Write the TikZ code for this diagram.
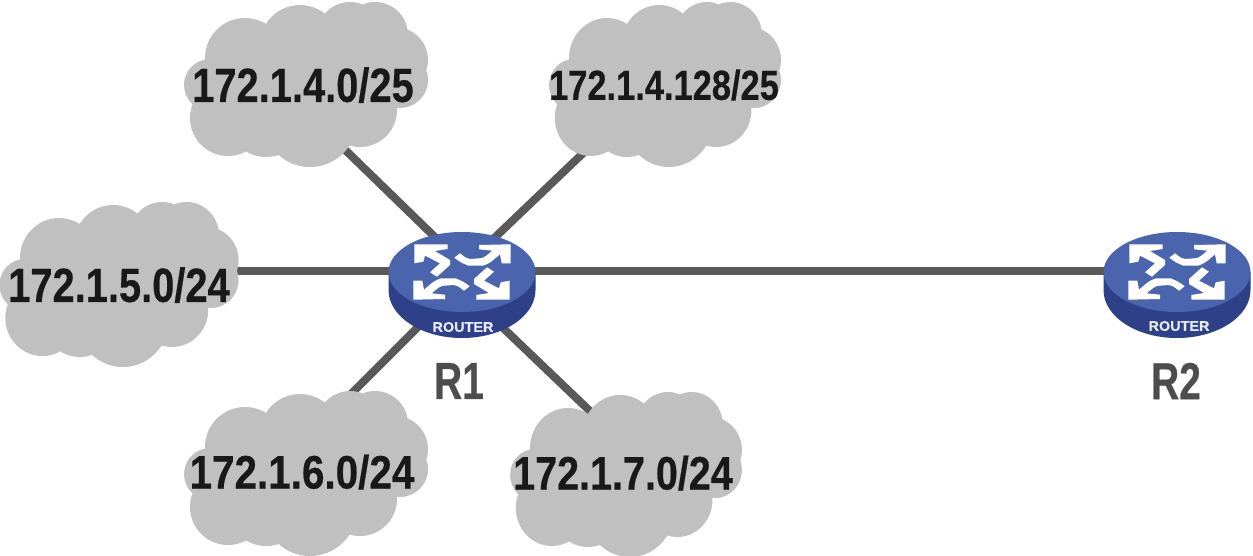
\documentclass[tikz,border=0pt]{standalone}
\usepackage{graphicx}
\usepackage{fontspec}
\setmainfont{Liberation Sans}[BoldFeatures={FakeBold=0.5}]
\usetikzlibrary{backgrounds}
\definecolor{cloudgrey}{HTML}{C0C0C0}
\definecolor{linkgrey}{HTML}{595959}
\definecolor{rface}{HTML}{4A65AE}
\definecolor{rside}{HTML}{2E4088}
\definecolor{labgrey}{HTML}{4D4D4D}
\newcommand{\nettext}[2]{\scalebox{#1}[1]{#2}}
\tikzset{
  netlabel/.style={font=\bfseries\fontsize{#1}{#1}\selectfont,text=black!90,inner sep=0pt},
  link/.style={draw=linkgrey,line width=8pt},
  rname/.style={font=\bfseries\fontsize{52}{52}\selectfont,text=labgrey,inner sep=0pt},
  rtag/.style={font=\bfseries\fontsize{14}{14}\selectfont,text=white!92!blue,inner sep=0pt},
  rhub/.style={circle,minimum size=2pt,inner sep=0pt},
}
% \mycloud{cx}{cy}{xscale}{yscale}
\newcommand{\mycloud}[4]{%
 \begin{scope}[shift={(#1,#2)},xscale=#3,yscale=#4]
 \fill[cloudgrey]
  (-61,-25) circle (40) (-6,-38) circle (40) (44,-48) circle (33) (69,-48) circle (33)
  (89,-23) circle (33) (94,-3) circle (28) (-96,2) circle (26) (-78,35) circle (38)
  (-40,36) circle (38) (4,37) circle (47) (54,27) circle (37) (0,0) ellipse (100 and 50);
 \end{scope}}
% \myrouter{cx}{cy}
\newcommand{\myrouter}[2]{%
 \begin{scope}[shift={(#1,#2)}]
 \fill[rside] (-73.5,0) -- (-73.5,18) arc[start angle=180,end angle=0,x radius=73.5,y radius=48] -- (73.5,0) -- cycle;
 \fill[rface] (0,0) ellipse (73.5 and 40);
 \foreach \sx in {1,-1}{
 \begin{scope}[xscale=\sx,yscale=\sx]
  \fill[white] (-47.7,-27.7) -- (-14.3,-27.7) -- (-14.3,-23) -- (-27,-21) -- (-12,-12) -- (-12,-7) -- (-25,4.7) -- (-32,0.3) -- (-22,-8.7) -- (-37,-16.3) -- (-38.7,-10.3) -- (-47.7,-8.7) -- cycle;
  \fill[white] (48.7,-27.7) -- (17,-27) -- (17,-22.7) -- (30.3,-21.3) .. controls (25,-17) and (22,-13.7) .. (18,-13.7) -- (8,-13) .. controls (4,-14) .. (-2,-18.7) -- (-7.7,-14.3) .. controls (-2,-10) .. (6.3,-6.3) -- (21,-6.3) .. controls (28,-9) .. (38,-17.7) -- (39.7,-8.7) -- (48.7,-8.7) -- cycle;
 \end{scope}}
 \end{scope}}
\begin{document}
\begin{tikzpicture}[x=1pt,y=-1pt]
\useasboundingbox (0,0) rectangle (1253,555);
% clouds
\mycloud{306}{83}{1}{1}
\mycloud{665}{83}{0.95}{1}
\mycloud{119}{283}{0.98}{1}
\mycloud{306}{472}{1}{1}
\mycloud{626}{473}{0.95}{1}
% routers
\myrouter{462}{272}
\myrouter{1177}{272}
% nodes
\node[rhub] (r1) at (462,271) {};
\node[rhub] (r2) at (1177,271) {};
\node[netlabel=48] (n1) at (303,85) {\nettext{0.83}{172.1.4.0/25}};
\node[netlabel=42] (n2) at (664,85) {\nettext{0.82}{172.1.4.128/25}};
\node[netlabel=48] (n3) at (119,285) {\nettext{0.83}{172.1.5.0/24}};
\node[netlabel=47] (n4) at (302,472) {\nettext{0.86}{172.1.6.0/24}};
\node[netlabel=47] (n5) at (623,473) {\nettext{0.84}{172.1.7.0/24}};
\node[rtag] (t1) at (463,327) {\nettext{1.03}{ROUTER}};
\node[rtag] (t2) at (1179,326) {\nettext{1.03}{ROUTER}};
\node[rname] (l1) at (459,381) {\nettext{0.75}{R1}};
\node[rname] (l2) at (1176,381) {\nettext{0.75}{R2}};
\coordinate (c1) at (335,140); \coordinate (p1) at (440,242);
\coordinate (c2) at (600,137); \coordinate (p2) at (487,245);
\coordinate (c3) at (225,271);
\coordinate (c4) at (342,403); \coordinate (p4) at (425,320);
\coordinate (c5) at (592,413); \coordinate (p5) at (500,325);
\begin{pgfonlayer}{background}
 \draw[link] (c1) -- (p1);
 \draw[link] (c2) -- (p2);
 \draw[link] (c3) -- (r1);
 \draw[link] (c4) -- (p4);
 \draw[link] (c5) -- (p5);
 \draw[link] (r1) -- (r2);
\end{pgfonlayer}
\end{tikzpicture}
\end{document}
